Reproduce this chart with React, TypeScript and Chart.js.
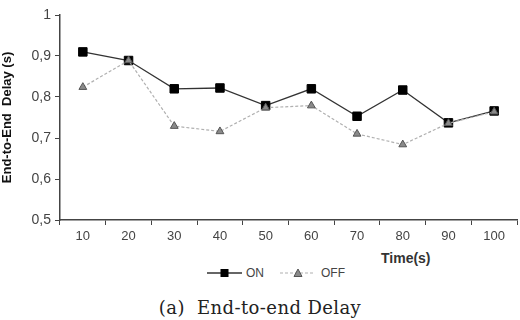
import React, { useEffect, useRef } from "react";
import { Chart, registerables } from "chart.js";

Chart.register(...registerables);

const categories = ["10", "20", "30", "40", "50", "60", "70", "80", "90", "100"];
const onValues = [0.91, 0.889, 0.82, 0.822, 0.779, 0.82, 0.753, 0.817, 0.737, 0.766];
const offValues = [0.824, 0.889, 0.729, 0.716, 0.774, 0.779, 0.71, 0.684, 0.736, 0.764];
const yTitle = "End-to-End  Delay (s)";
const xTitle = "Time(s)";
const seriesNames = ["ON", "OFF"];
const caption = "(a)  End-to-end Delay";

export default function App() {
  const ref = useRef<HTMLCanvasElement>(null);
  useEffect(() => {
    if (!ref.current) return;
    const chart = new Chart(ref.current, {
      type: "line",
      data: {
        labels: categories,
        datasets: [
          {
            label: seriesNames[0],
            data: onValues,
            order: 2,
            borderColor: "#333",
            borderWidth: 1.3,
            pointStyle: "rect",
            pointRadius: 6,
            pointBackgroundColor: "#000",
            pointBorderColor: "#000",
            pointBorderWidth: 1,
            tension: 0,
          },
          {
            label: seriesNames[1],
            data: offValues,
            order: 1,
            borderColor: "#b0b0b0",
            borderWidth: 1.2,
            borderDash: [3, 2],
            pointStyle: "triangle",
            pointRadius: 4.5,
            pointBackgroundColor: "#8a8a8a",
            pointBorderColor: "#555",
            pointBorderWidth: 1,
            tension: 0,
          },
        ],
      },
      options: {
        animation: false,
        responsive: false,
        layout: { padding: { top: 15, right: 1, left: 0, bottom: 0 } },
        plugins: { legend: { display: false }, tooltip: { enabled: false } },
        scales: {
          x: {
            type: "category",
            offset: true,
            grid: {
              display: true,
              drawOnChartArea: false,
              drawTicks: true,
              tickLength: 5,
              offset: true,
              color: "#444",
              lineWidth: 1,
            },
            border: { display: true, color: "#444", width: 1.5 },
            ticks: {
              color: "#444",
              font: { family: "Liberation Sans, Arial, sans-serif", size: 13 },
              padding: 4,
              maxRotation: 0,
            },
            afterFit: (s: any) => {
              s.height = 30;
            },
          },
          y: {
            min: 0.5,
            max: 1,
            grid: {
              display: true,
              drawOnChartArea: false,
              drawTicks: true,
              tickLength: 5,
              color: "#444",
            },
            border: { display: true, color: "#444", width: 1.5 },
            ticks: {
              stepSize: 0.1,
              color: "#444",
              padding: 4,
              font: { family: "Liberation Sans, Arial, sans-serif", size: 14 },
              callback: (v: any) => {
                const n = Math.round(Number(v) * 10) / 10;
                return n === 1 ? "1" : n.toFixed(1).replace(".", ",");
              },
            },
            title: {
              display: true,
              text: yTitle,
              color: "#111",
              font: { family: "Liberation Sans, Arial, sans-serif", size: 13, weight: "bold" },
              padding: { top: 0, bottom: 2 },
            },
            afterFit: (s: any) => {
              s.width = 60;
            },
          },
        },
      },
    });
    return () => chart.destroy();
  }, []);

  const txt: React.CSSProperties = {
    fontFamily: "Liberation Sans, Arial, sans-serif",
    fontSize: 12,
    color: "#444",
  };

  return (
    <div
      style={{
        position: "absolute",
        left: 0,
        top: 0,
        width: 520,
        height: 320,
        overflow: "hidden",
        background: "#fff",
      }}
    >
      <canvas ref={ref} width={524} height={250} style={{ position: "absolute", left: 0, top: 0 }} />
      <div
        style={{
          position: "absolute",
          left: 381,
          top: 250,
          fontFamily: "Liberation Sans, Arial, sans-serif",
          fontSize: 14,
          fontWeight: "bold",
          color: "#333",
        }}
      >
        {xTitle}
      </div>
      <svg width={160} height={14} style={{ position: "absolute", left: 205, top: 266 }}>
        <line x1={2} y1={7} x2={37} y2={7} stroke="#333" strokeWidth={1.3} />
        <rect x={15.5} y={3} width={8} height={8} fill="#000" />
        <line x1={75} y1={7} x2={110} y2={7} stroke="#b0b0b0" strokeWidth={1.2} strokeDasharray="3 2" />
        <polygon points="93,3 97,10.5 89,10.5" fill="#8a8a8a" stroke="#555" strokeWidth={1} />
      </svg>
      <div style={{ ...txt, position: "absolute", left: 246, top: 266 }}>{seriesNames[0]}</div>
      <div style={{ ...txt, position: "absolute", left: 321, top: 266 }}>{seriesNames[1]}</div>
      <div
        style={{
          position: "absolute",
          left: 0,
          width: 520,
          top: 297,
          textAlign: "center",
          fontFamily: "DejaVu Serif, serif",
          fontSize: 18,
          letterSpacing: 0.4,
          whiteSpace: "pre",
          color: "#222",
        }}
      >
        {caption}
      </div>
    </div>
  );
}
